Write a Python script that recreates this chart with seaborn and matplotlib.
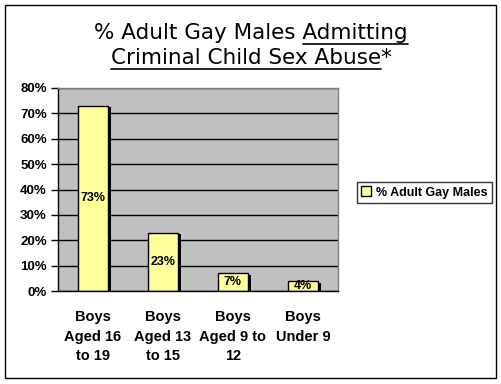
import pandas as pd
import numpy as np
import seaborn as sns
import matplotlib.pyplot as plt
import matplotlib.patheffects as pe
from matplotlib.patches import Rectangle, Patch
from matplotlib.lines import Line2D

groups = ['Boys\nAged 16\nto 19', 'Boys\nAged 13\nto 15', 'Boys\nAged 9 to\n12', 'Boys\nUnder 9']
pct = [73, 23, 7, 4]
series_name = '% Adult Gay Males'
title1_plain = '% Adult Gay Males '
title1_under = 'Admitting'
title2_under = 'Criminal Child Sex Abuse'
title2_plain = '*'

df = pd.DataFrame({'group': groups, 'pct': pct})

sns.set_style('white')
plt.rcParams['font.family'] = ['Liberation Sans', 'DejaVu Sans']
plt.rcParams.update({'text.color': 'black', 'xtick.color': 'black', 'ytick.color': 'black',
                     'axes.labelcolor': 'black'})

fig = plt.figure(figsize=(5.02, 3.84), dpi=100)
ax = fig.add_axes([58 / 502, 1 - 291 / 384, 280 / 502, 203 / 384])
ax.set_facecolor('#C0C0C0')

sns.barplot(data=df, x='group', y='pct', color='#FFFF99', saturation=1,
            edgecolor='black', linewidth=1, width=0.43, ax=ax)
for p in ax.patches:
    p.set_path_effects([pe.SimplePatchShadow(offset=(2.2, -1.2), shadow_rgbFace='black', alpha=1),
                        pe.Normal()])

for i, v in enumerate(pct):
    ax.text(i, v / 2, f'{v}%', ha='center', va='center', fontsize=9, fontweight='bold')

ax.set_ylim(0, 80)
ax.set_xlim(-0.5, 3.5)
ax.set_yticks(range(0, 81, 10))
ax.set_yticklabels([f'{t}%' for t in range(0, 81, 10)], fontsize=9.5, fontweight='bold')
ax.yaxis.grid(True, color='black', lw=1)
ax.set_axisbelow(True)
ax.set_xticks([0, 1, 2, 3])
ax.set_xticklabels(groups, fontsize=10.5, fontweight='bold', linespacing=1.5)
ax.set_xticks([-0.5, 0.5, 1.5, 2.5, 3.5], minor=True)
ax.tick_params(axis='x', which='major', length=0, pad=14)
ax.tick_params(axis='x', which='minor', length=5, width=1, color='black', direction='out')
ax.tick_params(axis='y', length=5, width=1, color='black', direction='out', left=True, pad=3)
ax.set_xlabel('')
ax.set_ylabel('')
for s in ['left', 'bottom']:
    ax.spines[s].set_color('black')
    ax.spines[s].set_linewidth(1)
for s in ['top', 'right']:
    ax.spines[s].set_color('#808080')
    ax.spines[s].set_linewidth(1)

handles = [Patch(facecolor='#FFFF99', edgecolor='black', lw=1, label=series_name)]
leg = fig.legend(handles=handles, loc='center', bbox_to_anchor=(424.5 / 502, 1 - 192.5 / 384),
                 fancybox=False, frameon=True, edgecolor='black', handlelength=0.8, handleheight=0.8,
                 handletextpad=0.4, borderpad=0.35, prop={'size': 9, 'weight': 'bold'})
leg.get_frame().set_linewidth(1)

# outer chart border
fig.add_artist(Rectangle((5 / 502, 1 - 378 / 384), 491 / 502, 373 / 384, transform=fig.transFigure,
                         fill=False, edgecolor='black', lw=1))

# title with underlined parts
tfont = dict(family='DejaVu Sans', fontsize=15.5, color='black')
t1 = fig.text(0.5, 1 - 33 / 384, title1_plain + title1_under, ha='center', va='center', **tfont)
t2 = fig.text(0.5, 1 - 58 / 384, title2_under + title2_plain, ha='center', va='center', **tfont)
fig.canvas.draw()
r = fig.canvas.get_renderer()
W, H = fig.bbox.width, fig.bbox.height


def text_width(s):
    tmp = fig.text(0, 0, s, **tfont)
    w = tmp.get_window_extent(r).width
    tmp.remove()
    return w


b1 = t1.get_window_extent(r)
x0 = b1.x1 - text_width(title1_under)
fig.add_artist(Line2D([x0 / W, b1.x1 / W], [(b1.y0 - 0.5) / H] * 2, color='black', lw=1.2))
b2 = t2.get_window_extent(r)
x1 = b2.x1 - text_width(title2_plain)
fig.add_artist(Line2D([b2.x0 / W, x1 / W], [(b2.y0 - 0.5) / H] * 2, color='black', lw=1.2))

fig.savefig('out.png', dpi=100)
